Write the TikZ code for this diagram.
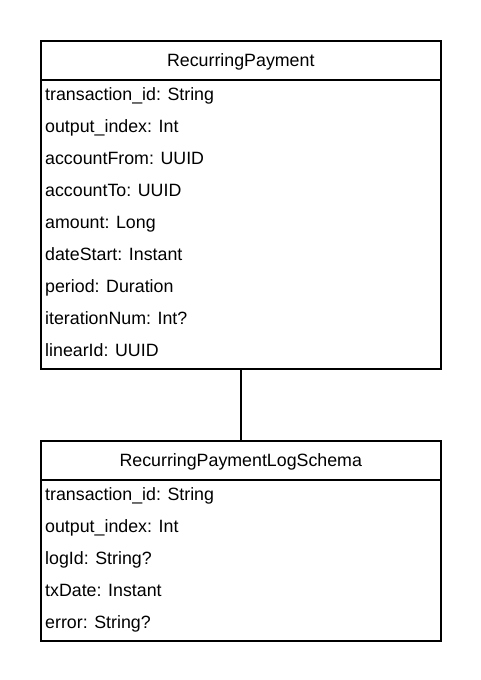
\documentclass[tikz,border=0pt]{standalone}
\usepackage{fontspec}
\setmainfont{Liberation Sans}
\usetikzlibrary{positioning}
\begin{document}
\begin{tikzpicture}[x=1pt, y=-1pt, font=\fontsize{17.8}{21}\selectfont,
		box/.style={draw, line width=1.6pt, minimum width=400pt, inner sep=0pt},
		head/.style={box, minimum height=39pt, text height=12.7pt, text depth=0pt},
		attr/.style={anchor=west, inner sep=0pt, text height=12.7pt, text depth=0pt},
		link/.style={line width=1.6pt}]
		% page frame
		\useasboundingbox (0,0) rectangle (480,680);
		% RecurringPayment table
		\node[box, minimum height=328pt, anchor=north west] (pay) at (40,40) {};
		\node[head, anchor=north west] (payhead) at (40,40) {RecurringPayment};
		\foreach \t [count=\p] in {transaction\_id: String, output\_index: Int, accountFrom: UUID,
			accountTo: UUID, amount: Long, dateStart: Instant, period: Duration,
			iterationNum: Int?, linearId: UUID} {
			\node[attr] (pay\p) at (45, 62+\p*32) {\t};
		};
		% log schema table
		\node[box, minimum height=200pt, anchor=north west] (log) at (40,440) {};
		\node[head, anchor=north west] (loghead) at (40,440) {RecurringPaymentLogSchema};
		\foreach \t [count=\p] in {transaction\_id: String, output\_index: Int, logId: String?,
			txDate: Instant, error: String?} {
			\node[attr] (log\p) at (45, 462+\p*32) {\t};
		};
		% association
		\draw[link] (pay.south) -- (log.north);
\end{tikzpicture}
\end{document}
